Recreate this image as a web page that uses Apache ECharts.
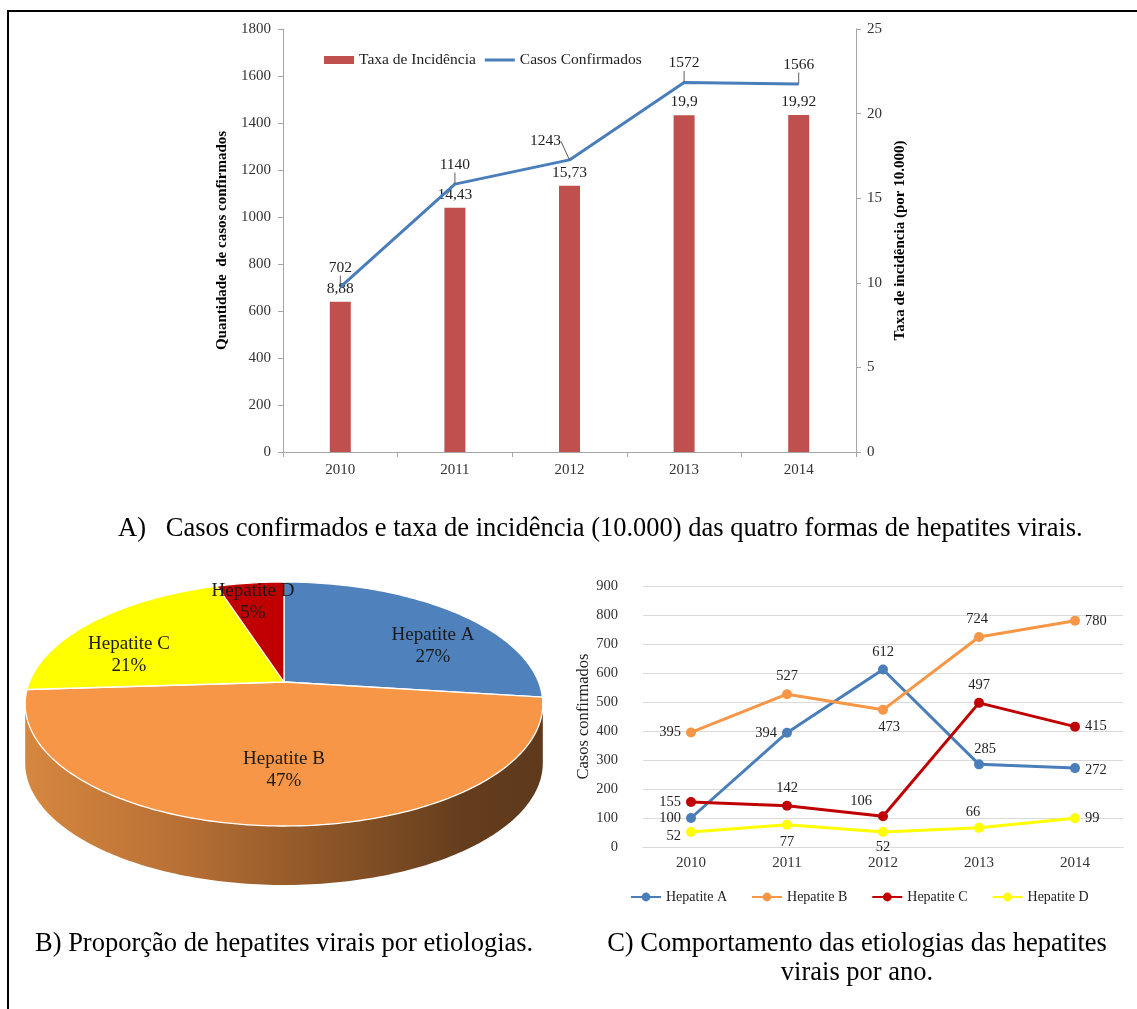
<!DOCTYPE html>
<html>
<head>
<meta charset="utf-8">
<script src="https://cdn.jsdelivr.net/npm/echarts@6/dist/echarts.min.js"></script>
<style>
  html, body { margin: 0; padding: 0; background: #fff; }
  #main { width: 1137px; height: 1009px; }
</style>
</head>
<body>
<div id="main"></div>
<script>
// ---- data ----
const years = ['2010', '2011', '2012', '2013', '2014'];
const incidenceRate = [8.88, 14.43, 15.73, 19.9, 19.92];      // por 10.000
const confirmedCases = [702, 1140, 1243, 1572, 1566];
const etiologies = ['Hepatite A', 'Hepatite B', 'Hepatite C', 'Hepatite D'];
const hepA = [100, 394, 612, 285, 272];
const hepB = [395, 527, 473, 724, 780];
const hepC = [155, 142, 106, 497, 415];
const hepD = [52, 77, 52, 66, 99];
const etiologyShare = [27, 47, 21, 5];                          // %
const casesTicks = [0, 1800, 200];
const rateTicks = [0, 25, 5];
const etiologyTicks = [0, 900, 100];

// ---- styling ----
const SERIF = 'Liberation Serif';
const lineColors = ['#4a7ebb', '#f79646', '#c00000', '#ffff00'];
const pieColors = ['#4f81bd', '#f79646', '#ffff00', '#c00000'];
const etiologySeries = [hepA, hepB, hepC, hepD];
const labelPlacement = [
  ['left', 'left', 'top', 'top', 'right'],
  ['left', 'top', 'bottom', 'top', 'right'],
  ['left', 'top', 'top', 'top', 'right'],
  ['left', 'bottom', 'bottom', 'top', 'right']
];
const labelShift = [
  [[0, 0], [0, 0], [0, 0], [6, 2], [0, 2]],
  [[0, 0], [0, 0], [6, 0], [-2, 0], [0, 0]],
  [[0, 0], [0, 0], [-22, 2], [0, 0], [0, 0]],
  [[0, 4], [0, 0], [0, -2], [-6, 2], [0, 0]]
];
const pieLabelOffset = [[149, -36], [0, 88], [-155, -27], [-31, -80]];

// ---- 3D pie projection (perspective of a tilted disc) ----
const PIE = { cx: 284, cy: 682, fx: 1255, fy: 1272, s: 0.4575, c: 0.889, D: 4.93, depth: 59 };
function proj(theta, drop) {
  const sn = Math.sin(theta), cs = Math.cos(theta);
  const den = PIE.D + cs * PIE.c;
  return [PIE.cx + PIE.fx * sn / den, PIE.cy - PIE.fy * cs * PIE.s / den + (drop || 0)];
}
const thetaRight = Math.acos(-PIE.c / PIE.D);
const thetaLeft = 2 * Math.PI - thetaRight;
const sideGradient = new echarts.graphic.LinearGradient(25, 0, 543, 0, [
  { offset: 0, color: '#d6873f' },
  { offset: 0.3, color: '#b87035' },
  { offset: 0.6, color: '#8a5427' },
  { offset: 0.85, color: '#643d1d' },
  { offset: 1, color: '#5e391c' }
], true);

function arcPoints(a0, a1, drop) {
  const pts = [];
  const n = Math.max(2, Math.ceil((a1 - a0) / (Math.PI / 180)));
  for (let k = 0; k <= n; k++) pts.push(proj(a0 + (a1 - a0) * k / n, drop));
  return pts;
}

function renderPieSlice(params, api) {
  const i = params.dataIndex;
  const total = etiologyShare.reduce((a, b) => a + b, 0);
  let before = 0;
  for (let k = 0; k < i; k++) before += etiologyShare[k];
  const a0 = before / total * 2 * Math.PI;
  const a1 = (before + api.value(0)) / total * 2 * Math.PI;
  const children = [];
  const lo = Math.max(a0, thetaRight), hi = Math.min(a1, thetaLeft);
  if (hi > lo) {
    const top = arcPoints(lo, hi, 0);
    const bottom = arcPoints(lo, hi, PIE.depth).reverse();
    children.push({
      type: 'polygon', z2: 1,
      shape: { points: top.concat(bottom) },
      style: { fill: sideGradient }
    });
  }
  children.push({
    type: 'polygon', z2: 2,
    shape: { points: [[PIE.cx, PIE.cy]].concat(arcPoints(a0, a1, 0)) },
    style: { fill: pieColors[i], stroke: '#ffffff', lineWidth: 1.3, lineJoin: 'round' }
  });
  children.push({
    type: 'text', z2: 5,
    x: PIE.cx + pieLabelOffset[i][0], y: PIE.cy + pieLabelOffset[i][1],
    style: {
      text: etiologies[i] + '\n' + api.value(0) + '%',
      fontFamily: SERIF, fontSize: 19, fill: '#1a1a1a',
      align: 'center', verticalAlign: 'middle', lineHeight: 22
    }
  });
  return { type: 'group', children };
}

const chart = echarts.init(document.getElementById('main'), null, { renderer: 'canvas' });

const plain = v => String(v);
const tickText = { fontFamily: SERIF, fontSize: 15, color: '#333', formatter: plain };
const grayAxis = { lineStyle: { color: '#a6a6a6', width: 1 } };

const option = {
  backgroundColor: '#ffffff',
  animation: false,
  textStyle: { fontFamily: SERIF },
  grid: [
    { left: 283, right: 281, top: 29, bottom: 557, containLabel: false },
    { left: 643, right: 14, top: 586, bottom: 162, containLabel: false }
  ],
  legend: [
    {
      left: 319, top: 47, itemGap: 9, itemWidth: 30, itemHeight: 8,
      textStyle: { fontFamily: SERIF, fontSize: 15.5, color: '#222' },
      data: [
        { name: 'Taxa de Incidência', icon: 'rect' },
        { name: 'Casos Confirmados', icon: 'path://M0,0h30v3h-30z' }
      ]
    },
    {
      left: 625, top: 885, itemGap: 24, itemWidth: 30, itemHeight: 11,
      textStyle: { fontFamily: SERIF, fontSize: 14, color: '#222' },
      data: etiologies
    }
  ],
  xAxis: [
    {
      type: 'category', gridIndex: 0, data: years,
      axisLine: grayAxis,
      axisTick: { show: true, length: 5, lineStyle: { color: '#a6a6a6' } },
      axisLabel: Object.assign({ margin: 11 }, tickText)
    },
    {
      type: 'category', gridIndex: 1, data: years,
      axisLine: { lineStyle: { color: '#d9d9d9', width: 1 } },
      axisTick: { show: false },
      axisLabel: { margin: 9, fontFamily: SERIF, fontSize: 15, color: '#333' }
    }
  ],
  yAxis: [
    {
      type: 'value', gridIndex: 0, position: 'left',
      min: casesTicks[0], max: casesTicks[1], interval: casesTicks[2],
      name: 'Quantidade  de casos confirmados', nameLocation: 'middle', nameGap: 40,
      nameTextStyle: { fontFamily: SERIF, fontSize: 15, fontWeight: 'bold', color: '#000' },
      axisLine: Object.assign({ show: true }, grayAxis),
      axisTick: { show: true, length: 5, lineStyle: { color: '#a6a6a6' } },
      splitLine: { show: false },
      axisLabel: Object.assign({ margin: 12 }, tickText)
    },
    {
      type: 'value', gridIndex: 0, position: 'right',
      min: rateTicks[0], max: rateTicks[1], interval: rateTicks[2],
      name: 'Taxa de incidência (por 10.000)', nameLocation: 'middle', nameGap: 35,
      nameRotate: 90,
      nameTextStyle: { fontFamily: SERIF, fontSize: 15, fontWeight: 'bold', color: '#000' },
      axisLine: Object.assign({ show: true }, grayAxis),
      axisTick: { show: true, length: 5, lineStyle: { color: '#a6a6a6' } },
      splitLine: { show: false },
      axisLabel: Object.assign({ margin: 11 }, tickText)
    },
    {
      type: 'value', gridIndex: 1,
      min: etiologyTicks[0], max: etiologyTicks[1], interval: etiologyTicks[2],
      name: 'Casos confirmados', nameLocation: 'middle', nameGap: 23,
      nameTextStyle: { fontFamily: SERIF, fontSize: 16.5, color: '#222' },
      axisLine: { show: false }, axisTick: { show: false },
      splitLine: { lineStyle: { color: '#d9d9d9', width: 1 } },
      axisLabel: { margin: 25, fontFamily: SERIF, fontSize: 14.5, color: '#333' }
    }
  ],
  graphic: [
    // figure frame
    { type: 'line', shape: { x1: 7, y1: 11, x2: 1137, y2: 11 }, style: { stroke: '#000', lineWidth: 2 } },
    { type: 'line', shape: { x1: 8, y1: 10, x2: 8, y2: 1009 }, style: { stroke: '#000', lineWidth: 2 } },
    // captions
    { type: 'text', x: 118, y: 529, style: { text: 'A)   Casos confirmados e taxa de incidência (10.000) das quatro formas de hepatites virais.', fontFamily: SERIF, fontSize: 26.5, fill: '#000', verticalAlign: 'middle' } },
    { type: 'text', x: 35, y: 944, style: { text: 'B) Proporção de hepatites virais por etiologias.', fontFamily: SERIF, fontSize: 26.5, fill: '#000', verticalAlign: 'middle' } },
    { type: 'text', x: 857, y: 959, style: { text: 'C) Comportamento das etiologias das hepatites\nvirais por ano.', fontFamily: SERIF, fontSize: 26.5, lineHeight: 29, fill: '#000', align: 'center', verticalAlign: 'middle' } }
  ],
  series: [
    {
      name: 'Taxa de Incidência', type: 'bar', xAxisIndex: 0, yAxisIndex: 1,
      data: incidenceRate, barWidth: 21,
      itemStyle: { color: '#c0504d' },
      label: {
        show: true, position: 'top', distance: 5,
        fontFamily: SERIF, fontSize: 15.5, color: '#222',
        formatter: p => String(p.value).replace('.', ',')
      },
      z: 2
    },
    {
      name: 'Casos Confirmados', type: 'line', xAxisIndex: 0, yAxisIndex: 0,
      data: confirmedCases, symbol: 'circle', symbolSize: 1, showSymbol: true,
      lineStyle: { color: '#4a7ebb', width: 3 },
      itemStyle: { color: '#4a7ebb' },
      label: {
        show: true, position: 'top', distance: 3,
        fontFamily: SERIF, fontSize: 15.5, color: '#222'
      },
      labelLayout: p => ({ dy: p.dataIndex === 2 ? -7 : -8, dx: p.dataIndex === 2 ? -24 : 0 }),
      labelLine: { show: true, length2: 0, lineStyle: { color: '#333', width: 0.8 } },
      z: 3
    },
    {
      name: 'pizza', type: 'custom', coordinateSystem: 'none',
      renderItem: renderPieSlice,
      data: etiologyShare.map((v, i) => ({ name: etiologies[i], value: [v] })),
      silent: true
    }
  ].concat(etiologySeries.map((vals, s) => ({
    name: etiologies[s], type: 'line', xAxisIndex: 1, yAxisIndex: 2,
    symbol: 'circle', symbolSize: 10,
    lineStyle: { color: lineColors[s], width: 3 },
    itemStyle: { color: lineColors[s] },
    label: { show: true, fontFamily: SERIF, fontSize: 14.5, color: '#222', distance: 5 },
    data: vals.map((v, i) => ({
      value: v,
      label: { position: labelPlacement[s][i], offset: labelShift[s][i] }
    })),
    z: 3 + s
  })))
};

chart.setOption(option);
</script>
</body>
</html>
